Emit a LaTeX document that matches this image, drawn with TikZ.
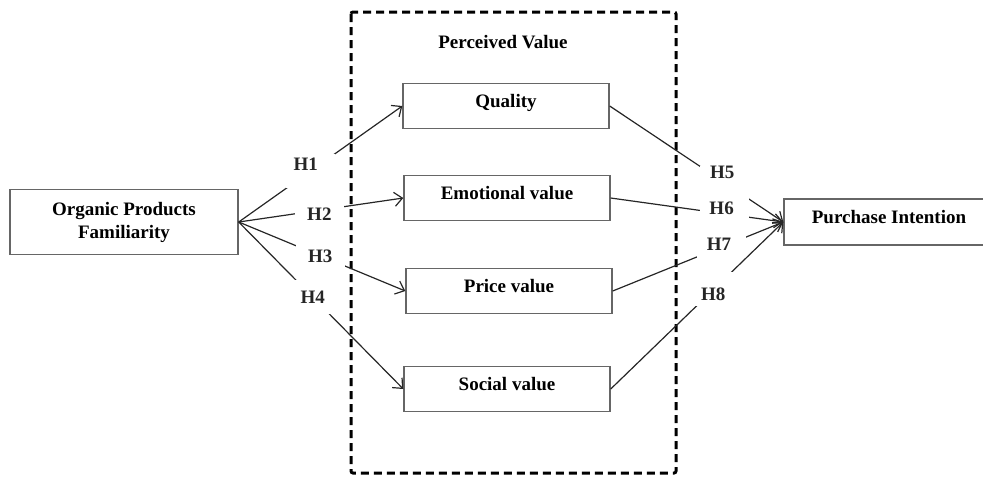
\documentclass[tikz,border=0pt]{standalone}
\usepackage{fontspec}
\setmainfont{Liberation Serif}
\usetikzlibrary{arrows.meta}

\tikzstyle{construct}=[draw=black!60,line width=0.7pt,minimum width=103pt,minimum height=22.5pt,inner sep=0pt,align=center,font=\bfseries\fontsize{9.5}{11.5}\selectfont]
\tikzstyle{oneline} = [text height=7pt,text depth=5.4pt]
\tikzstyle{link} = [draw,black!85,line width=0.6pt,-{Straight Barb[length=4pt,width=7pt]}]
\tikzstyle{gap} = [fill=white,minimum width=24.5pt,minimum height=17pt,inner sep=0pt]
\tikzstyle{hyp} = [inner sep=0pt,font=\bfseries\fontsize{9.5}{11}\selectfont]
\tikzstyle{frame} = [draw,line width=1.5pt,dash pattern=on 4pt off 2.5pt,rounded corners=1pt]

\begin{document}
\begin{tikzpicture}[x=0.5pt, y=-0.5pt]
    \useasboundingbox (0,0) rectangle (983,478);
    % Dashed frame holding the perceived value dimensions
    \draw[frame] (351,12) rectangle (676,473);
    \node[font=\bfseries\fontsize{9.5}{11}\selectfont] (pv) at (503,42) {Perceived Value};
    % First we draw the constructs
    \foreach \pos/\name/\txt in {{(506,106)/quality/Quality}, {(507,198)/emotional/Emotional value},
                                 {(509,291)/price/Price value}, {(507,389)/social/Social value}}
        \node[construct,oneline] (\name) at \pos {\txt};
    \node[construct, minimum width=114pt, minimum height=32.5pt] (opf) at (124,222) {Organic Products\\Familiarity};
    \node[construct, oneline, minimum width=105pt, minimum height=23pt] (pi) at (889,222) {Purchase Intention};
    % Connect constructs with paths and draw hypotheses (white gap, label on top)
    \foreach \dest/\hyp/\p/\dx/\dy in {quality/H1/0.44/-2.5pt/3.5pt, emotional/H2/0.49/0pt/-2pt,
                                       price/H3/0.49/0pt/0pt, social/H4/0.45/0pt/0pt}
        \path[link] (opf.east) -- node[gap, pos=\p, label={[hyp,xshift=\dx,yshift=\dy]center:\hyp}] {} (\dest.west);
    \foreach \source/\hyp/\p/\dx/\dy in {quality/H5/0.66/-1pt/5pt, emotional/H6/0.66/-1.5pt/3pt,
                                         price/H7/0.64/-1.5pt/1.5pt, social/H8/0.60/-0.5pt/-2.5pt}
        \path[link] (\source.east) -- node[gap, pos=\p, label={[hyp,xshift=\dx,yshift=\dy]center:\hyp}] {} (pi.west);
\end{tikzpicture}
\end{document}
